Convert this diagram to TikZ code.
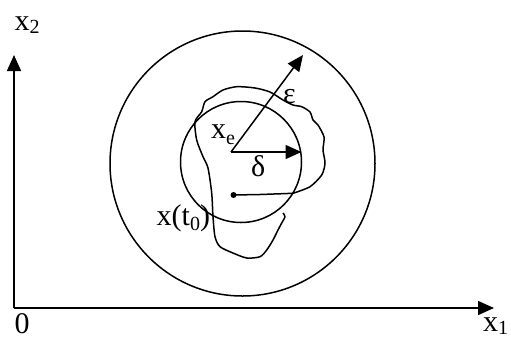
\documentclass[tikz,border=0pt]{standalone}
\usepackage{fontspec}
\setmainfont{Liberation Serif}
\usetikzlibrary{arrows.meta}
\newcommand\sbs[2]{\raisebox{-#2pt}{\fontsize{20}{21}\selectfont #1}}
\begin{document}
\begin{tikzpicture}[x=1pt,y=-1pt,
  lbl/.style={anchor=base west,inner sep=0pt,font=\fontsize{30}{32}\selectfont},
  ln/.style={line width=1.5pt},
  arr/.style={ln,-{Triangle[length=16pt,width=14pt]}}]
\useasboundingbox (0,0) rectangle (511,338);
% axes
\coordinate (O) at (14,308);
\coordinate (ytip) at (14,55);
\coordinate (xtip) at (494,308);
\draw[arr] (O) -- (ytip);
\draw[arr] (O) -- (xtip);
\node[lbl] (lx2) at (14.5,30) {x\sbs{2}{3}};
\node[lbl] (l0) at (14.5,333) {0};
\node[lbl] (lx1) at (483,331) {x\sbs{1}{3}};
% circles
\node[ln,draw,circle,minimum size=265pt,inner sep=0pt] (eps) at (242.5,163.5) {};
\node[ln,draw,circle,minimum size=121pt,inner sep=0pt] (del) at (241,162) {};
% equilibrium and radii
\coordinate (xe) at (231,152);
\coordinate (etip) at (303,55);
\coordinate (dtip) at (301.5,152);
\draw[arr] (xe) -- (etip);
\draw[arr] (xe) -- (dtip);
\node[lbl] (lxe) at (211,138.3) {x\sbs{e}{6}};
\node[lbl] (ld) at (251,176.5) {δ};
\node[lbl] (le) at (283,103.3) {ε};
% trajectory
\node[circle,fill,inner sep=0pt,minimum size=6pt] (x0) at (233.5,195) {};
\draw[ln,line join=round] (x0.center) -- (260,194.5) -- (293,193.3)
  plot[smooth,tension=0.45] coordinates {(293,193.3) (310,186.7) (321.7,175) (325,163) (323,150) (324,137) (318,125) (313,120) (310,112) (301.7,106.7) (293,105) (283,100) (270,92) (255,88) (236.7,86.7) (223,90) (213,96.7) (205,101.7) (201.7,111.7) (195,121.7) (196.7,140) (203,156.7) (208,168) (211.7,193) (213,216.7) (215,236.7) (220,246.7) (233,253) (246.7,258) (260,256.7) (266.7,250) (273,240) (278,230) (281.7,223) (285,216.7) (283,213)};
\node[lbl] (lx0) at (156.5,225) {x(t\sbs{0}{5})};
\end{tikzpicture}
\end{document}
